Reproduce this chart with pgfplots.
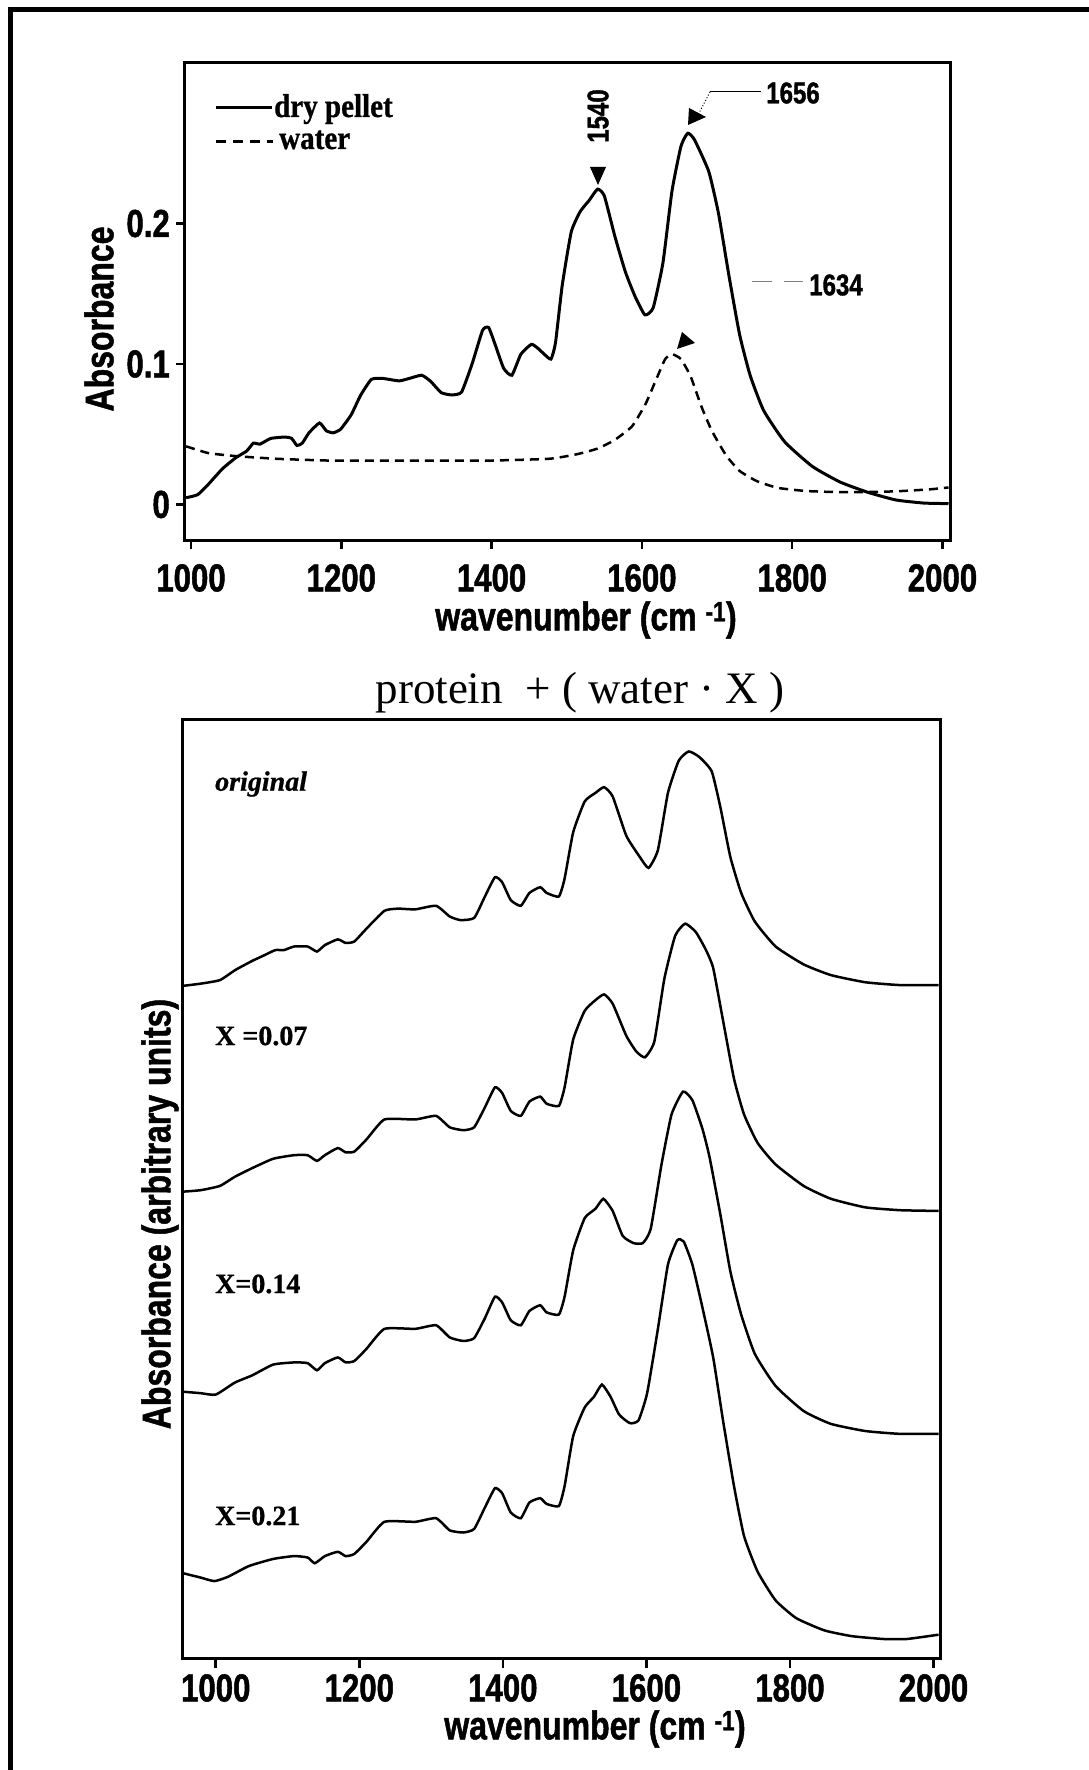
\documentclass[border=0pt]{standalone}
\usepackage{fontspec}
\setmainfont{Liberation Serif}
\newfontfamily\condsans[FakeStretch=0.80,FakeBold=1.2]{Liberation Sans}
\newfontfamily\condserif[FakeStretch=0.88,FakeBold=0.8]{Liberation Serif}
\newfontfamily\heavyserif[FakeBold=0.8]{Liberation Serif}
\usepackage{pgfplots}
\pgfplotsset{compat=1.18}
\newcommand{\ticksfont}{\condsans\bfseries\fontsize{39}{39}\selectfont}
\newcommand{\labfont}{\condsans\bfseries\fontsize{40}{40}\selectfont}
\newcommand{\annfont}{\condsans\bfseries\fontsize{30}{30}\selectfont}
\newcommand{\legfont}{\condserif\bfseries\fontsize{33}{33}\selectfont}
\newcommand{\xfont}{\heavyserif\bfseries\fontsize{28}{28}\selectfont}
\begin{document}
\begin{tikzpicture}[x=1pt,y=1pt]
\useasboundingbox (0,0) rectangle (1089,1770);
\draw[line width=5pt] (10,0) -- (10,1760) -- (1089,1760);

% ---------------- top panel ----------------
\begin{axis}[at={(184pt,1229pt)}, anchor=south west, scale only axis,
  width=766pt, height=478pt,
  xmin=990.7, xmax=2010, ymin=-0.026, ymax=0.3143,
  axis line style={line width=3pt},
  tick style={line width=2.5pt, black},
  tick align=outside, major tick length=8pt,
  xtick={1000,1200,...,2000}, ytick={0,0.1,0.2},
  xtick pos=left, ytick pos=left,
  /pgf/number format/assume math mode=true,
  /pgf/number format/1000 sep={},
  xticklabel style={font=\ticksfont, inner sep=0pt, anchor=north, yshift=-15pt},
  yticklabel style={font=\ticksfont, inner sep=0pt, anchor=east, xshift=-6pt},
  clip=false]
\addplot[black, line width=3pt, smooth, tension=0.3] coordinates {
(993.5,0.0048)(1009,0.007)(1023,0.0143)(1042,0.0255)(1060,0.0334)(1074,0.038)
(1083,0.0436)(1092,0.043)(1106,0.047)(1125,0.048)(1134,0.047)(1141,0.042)
(1148,0.0436)(1157,0.051)(1171,0.058)(1180,0.0525)(1189,0.051)(1199,0.0535)
(1213,0.0637)(1226,0.078)(1240,0.089)(1254,0.0898)(1277,0.088)(1291,0.0898)
(1307,0.092)(1319,0.0876)(1333,0.0796)(1347,0.078)(1360,0.080)(1374,0.100)
(1388,0.124)(1396,0.126)(1404,0.115)(1416,0.097)(1427,0.092)(1439,0.107)
(1453,0.114)(1462,0.111)(1470,0.107)(1479,0.1035)(1485,0.115)(1494,0.156)
(1506,0.194)(1518,0.2086)(1530,0.2166)(1541,0.2245)(1550,0.2197)(1564,0.191)
(1578,0.1656)(1591,0.148)(1604,0.135)(1615,0.140)(1628,0.172)(1640,0.223)
(1652,0.255)(1661,0.2643)(1670,0.2596)(1689,0.237)(1702,0.207)(1716,0.1624)
(1730,0.121)(1744,0.092)(1762,0.0669)(1790,0.0446)(1827,0.027)(1864,0.0159)
(1901,0.0086)(1938,0.0032)(1975,0.001)(2008,0.0006)};
\addplot[black, line width=2.5pt, dash pattern=on 9pt off 6pt, smooth, tension=0.3] coordinates {
(993.5,0.0414)(1023,0.0366)(1060,0.0344)(1115,0.0325)(1189,0.0312)(1300,0.0312)
(1393,0.0312)(1476,0.0325)(1513,0.0357)(1541,0.0398)(1564,0.046)(1587,0.0557)
(1605,0.0717)(1619,0.089)(1631,0.1035)(1640,0.107)(1652,0.1035)(1665,0.091)
(1679,0.070)(1693,0.0525)(1712,0.035)(1730,0.0239)(1753,0.0166)(1781,0.0118)
(1818,0.0096)(1855,0.0089)(1910,0.0089)(1947,0.0096)(1984,0.0108)(2008,0.0121)};
\end{axis}

% legend
\draw[line width=3pt] (216,1662) -- (272,1662);
\node[anchor=base west, inner sep=0pt, font=\legfont] at (274,1653) {dry pellet};
\draw[line width=3pt, dash pattern=on 10pt off 7pt] (216,1628) -- (273,1628);
\node[anchor=base west, inner sep=0pt, font=\legfont] at (279,1621) {water};

% annotations
\node[rotate=90, inner sep=0pt, font=\annfont] at (598,1654) {1540};
\fill (590,1603) -- (606,1603) -- (598,1585) -- cycle;
\node[inner sep=0pt, font=\annfont] at (793,1677) {1656};
\draw[line width=1pt] (710,1678) -- (761,1678);
\draw[line width=1pt, dotted] (710,1678) -- (698,1655);
\fill (688,1645) -- (689,1662) -- (706,1653) -- cycle;
\node[inner sep=0pt, font=\annfont] at (836,1485) {1634};
\draw[line width=1pt, gray, dash pattern=on 20pt off 12pt] (752,1488) -- (803,1488);
\fill (677,1421) -- (682,1438) -- (695,1427) -- cycle;

% labels
\node[rotate=90, inner sep=0pt, font=\labfont] at (99,1451) {Absorbance};
\node[inner sep=0pt, font=\labfont] at (586,1150) {wavenumber (cm \textsuperscript{-1})};

% ---------------- bottom panel ----------------
\node[inner sep=0pt, font=\fontsize{45}{45}\selectfont] at (580,1077) {protein\ \ + ( water · X )};

\begin{axis}[at={(182pt,111pt)}, anchor=south west, scale only axis,
  width=758pt, height=939pt,
  xmin=953, xmax=2009, ymin=0, ymax=13.14,
  axis line style={line width=3pt},
  tick style={line width=2.5pt, black},
  tick align=outside, major tick length=9pt,
  xtick={1000,1200,...,2000}, ytick=\empty,
  xtick pos=left,
  /pgf/number format/assume math mode=true,
  /pgf/number format/1000 sep={},
  xticklabel style={font=\ticksfont, inner sep=0pt, anchor=north, yshift=-6pt},
  clip=false]
\addplot[black, line width=2.5pt, smooth, tension=0.3] coordinates {
(954.6,9.42)(978.8,9.45)(1005.8,9.50)(1027,9.64)(1051,9.77)(1066,9.84)(1083,9.92)
(1095,9.92)(1109,9.97)(1128,9.97)(1141,9.90)(1152,9.99)(1170,10.07)(1181,10.02)
(1193,10.04)(1210,10.22)(1235,10.47)(1254,10.50)(1278,10.49)(1307,10.54)
(1326,10.39)(1341,10.34)(1360,10.37)(1375,10.67)(1389,10.94)(1399,10.87)
(1411,10.62)(1425,10.54)(1437,10.72)(1452,10.80)(1461,10.72)(1478,10.67)
(1486,10.92)(1498,11.57)(1514,12.00)(1529,12.12)(1541,12.20)(1553,12.07)
(1572,11.52)(1591,11.22)(1603,11.07)(1616,11.32)(1630,12.12)(1645,12.57)
(1659,12.70)(1674,12.62)(1691,12.42)(1703,11.92)(1717,11.22)(1732,10.72)
(1751,10.32)(1780,9.97)(1819,9.72)(1857,9.57)(1905,9.47)(1954,9.43)(2007,9.43)};
\addplot[black, line width=2.5pt, smooth, tension=0.3] coordinates {
(954.6,6.54)(978.8,6.56)(1005.8,6.62)(1027,6.75)(1051,6.87)(1080,7.00)(1109,7.05)
(1128,7.05)(1141,6.97)(1152,7.05)(1170,7.15)(1181,7.09)(1193,7.10)(1210,7.27)
(1235,7.55)(1278,7.55)(1307,7.60)(1326,7.44)(1345,7.40)(1360,7.44)(1375,7.72)
(1389,8.00)(1399,7.92)(1411,7.67)(1425,7.60)(1437,7.80)(1452,7.87)(1461,7.77)
(1478,7.74)(1486,8.00)(1498,8.67)(1514,9.07)(1529,9.22)(1541,9.30)(1553,9.17)
(1572,8.72)(1586,8.50)(1598,8.42)(1611,8.64)(1625,9.52)(1640,10.12)(1654,10.29)
(1669,10.17)(1683,9.92)(1693,9.67)(1707,8.92)(1722,8.12)(1736,7.62)(1755,7.22)
(1780,6.92)(1819,6.62)(1857,6.44)(1905,6.32)(1954,6.28)(2007,6.27)};
\addplot[black, line width=2.5pt, smooth, tension=0.3] coordinates {
(954.6,3.74)(978.8,3.72)(1000,3.70)(1027,3.87)(1051,3.97)(1080,4.12)(1109,4.15)
(1128,4.14)(1141,4.04)(1152,4.14)(1170,4.22)(1181,4.15)(1193,4.17)(1210,4.34)
(1235,4.62)(1278,4.62)(1307,4.67)(1326,4.50)(1345,4.45)(1360,4.49)(1375,4.77)
(1389,5.07)(1399,4.99)(1411,4.74)(1425,4.67)(1437,4.87)(1452,4.95)(1461,4.85)
(1478,4.82)(1486,5.07)(1498,5.72)(1514,6.17)(1529,6.30)(1540,6.44)(1553,6.27)
(1567,5.92)(1582,5.82)(1595,5.82)(1606,6.02)(1621,6.92)(1635,7.62)(1651,7.94)
(1664,7.82)(1678,7.42)(1688,7.02)(1703,6.22)(1717,5.42)(1732,4.82)(1751,4.27)
(1780,3.82)(1819,3.47)(1857,3.29)(1905,3.19)(1954,3.15)(2007,3.15)};
\addplot[black, line width=2.5pt, smooth, tension=0.3] coordinates {
(954.6,1.20)(978.8,1.14)(998,1.09)(1017,1.15)(1046,1.30)(1080,1.40)(1109,1.44)
(1128,1.42)(1138,1.34)(1152,1.44)(1170,1.50)(1181,1.44)(1193,1.47)(1210,1.64)
(1235,1.92)(1278,1.92)(1307,1.97)(1326,1.80)(1345,1.77)(1360,1.82)(1375,2.12)
(1389,2.39)(1399,2.32)(1411,2.05)(1425,1.97)(1437,2.19)(1452,2.25)(1461,2.17)
(1478,2.14)(1486,2.42)(1498,3.12)(1514,3.52)(1527,3.67)(1538,3.84)(1550,3.67)
(1562,3.42)(1577,3.30)(1589,3.34)(1601,3.72)(1616,4.62)(1630,5.52)(1643,5.86)
(1652,5.84)(1664,5.52)(1678,4.92)(1693,4.22)(1707,3.32)(1722,2.42)(1736,1.72)
(1755,1.22)(1780,0.82)(1809,0.57)(1848,0.40)(1886,0.32)(1930,0.28)(1963,0.28)
(2007,0.34)};
\end{axis}

\node[anchor=west, inner sep=0pt, font=\heavyserif\bfseries\itshape\fontsize{28}{28}\selectfont] at (215,986) {original};
\node[anchor=west, inner sep=0pt, font=\xfont] at (215,734) {X =0.07};
\node[anchor=west, inner sep=0pt, font=\xfont] at (215,486) {X=0.14};
\node[anchor=west, inner sep=0pt, font=\xfont] at (215,254) {X=0.21};

\node[rotate=90, inner sep=0pt, font=\labfont] at (160,556) {Absorbance (arbitrary units)};
\node[inner sep=0pt, font=\labfont] at (595,41) {wavenumber (cm \textsuperscript{-1})};
\end{tikzpicture}
\end{document}
